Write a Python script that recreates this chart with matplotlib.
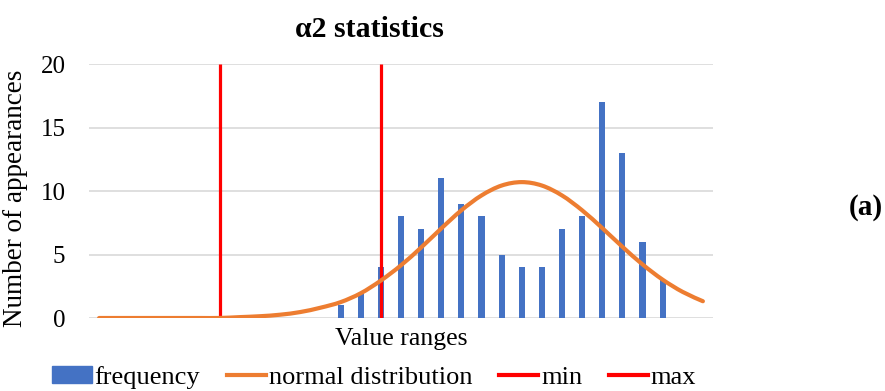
import numpy as np
import matplotlib.pyplot as plt
from matplotlib.lines import Line2D
from matplotlib.patches import Patch, PathPatch
from matplotlib.path import Path

# data
n_categories = 31
bar_categories = list(range(12, 29))
frequency = [1, 2, 4, 8, 7, 11, 9, 8, 5, 4, 4, 7, 8, 17, 13, 6, 3]
normal_dist = [0.0, 0.0, 0.0, 0.0, 0.0, 0.0, 0.003, 0.07, 0.14, 0.26, 0.47,
               0.81, 1.25, 1.95, 2.95, 4.15, 5.55, 7.05, 8.48, 9.65, 10.43,
               10.7, 10.43, 9.65, 8.48, 7.08, 5.61, 4.22, 3.02, 2.05, 1.32]
min_cat = 6
max_cat = 14

blue = '#4472C4'
orange = '#ED7D31'
red = '#FF0000'

plt.rcParams['font.family'] = ['Liberation Serif', 'DejaVu Serif']


def smooth_path(xs, ys):
    # excel-like smoothed line: catmull-rom segments drawn as bezier curves
    pts = np.column_stack([xs, ys]).astype(float)
    verts = [pts[0]]
    codes = [Path.MOVETO]
    n = len(pts)
    for i in range(n - 1):
        p0 = pts[max(i - 1, 0)]
        p1 = pts[i]
        p2 = pts[i + 1]
        p3 = pts[min(i + 2, n - 1)]
        c1 = p1 + (p2 - p0) / 6.0
        c2 = p2 - (p3 - p1) / 6.0
        verts += [c1, c2, p2]
        codes += [Path.CURVE4] * 3
    return Path(verts, codes)


fig = plt.figure(figsize=(8.85, 3.91), dpi=100)
ax = fig.add_axes([0.1006, 0.1867, 0.7050, 0.6496])

x = np.arange(n_categories)
ax.bar(bar_categories, frequency, width=0.3, color=blue, zorder=2)
ax.vlines([min_cat, max_cat], 0, 20, color=red, linewidth=2.3, zorder=3)
ax.add_patch(PathPatch(smooth_path(x, normal_dist), fill=False,
                       edgecolor=orange, linewidth=3, zorder=4,
                       capstyle='round'))

ax.set_xlim(-0.5, n_categories - 0.5)
ax.set_ylim(0, 20)
ax.set_yticks([0, 5, 10, 15, 20])
ax.set_xticks([])
ax.grid(axis='y', color='#d9d9d9', linewidth=1.2, zorder=0)
ax.set_axisbelow(True)
for s in ax.spines.values():
    s.set_visible(False)
ax.tick_params(axis='y', length=0, pad=17, labelsize=18)

ax.set_ylabel('Number of appearances', fontsize=19.5)
ax.yaxis.set_label_coords(-0.098, 0.47)
ax.set_xlabel('Value ranges', fontsize=18.5, labelpad=7)

fig.text(0.417, 0.925, 'α2 statistics', fontsize=21.5, fontweight='bold',
         ha='center', va='center')
fig.text(0.978, 0.47, '(a)', fontsize=21, fontweight='bold',
         ha='center', va='center')

handles = [
    Patch(color=blue, label='frequency'),
    Line2D([], [], color=orange, linewidth=3, label='normal distribution'),
    Line2D([], [], color=red, linewidth=3, label='min'),
    Line2D([], [], color=red, linewidth=3, label='max'),
]
fig.legend(handles=handles, loc='center', bbox_to_anchor=(0.423, 0.035),
           ncol=4, frameon=False, fontsize=19, handlelength=1.5,
           handletextpad=0.1, columnspacing=1.0, handleheight=0.6)

fig.savefig('out.png', dpi=100)
